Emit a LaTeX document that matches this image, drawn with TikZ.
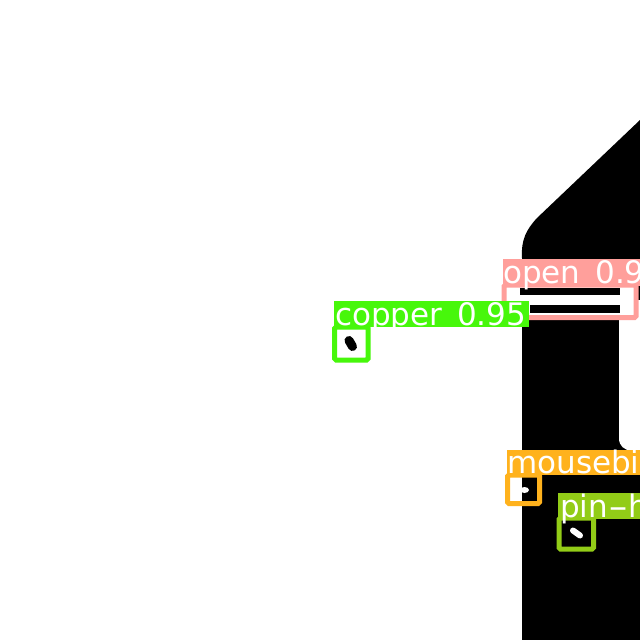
\documentclass[tikz,border=0pt]{standalone}
\usepackage{fontspec}
\setmainfont[WordSpace=1.5]{DejaVu Sans}
\definecolor{cOpen}{HTML}{FF9F9B}
\definecolor{cCopper}{HTML}{47F70B}
\definecolor{cMouse}{HTML}{FFB21D}
\definecolor{cPin}{HTML}{92CC17}
\tikzset{
  defectbox/.style={draw=#1,line width=5pt,rounded corners=1.5pt},
  labeltext/.style={anchor=base west,inner sep=0pt,text=white,font=\fontsize{31}{32}\selectfont}
}
\begin{document}
\begin{tikzpicture}[x=1pt,y=-1pt]
\useasboundingbox (0,0) rectangle (640,640);
\clip (0,0) rectangle (640,640);
\fill[white] (0,0) rectangle (640,640);
% board copper
\fill[black] (522,640) -- (522,258) .. controls (521,240) and (526,230) .. (537,218) -- (640,120) -- (640,640) -- cycle;
% notch on the right
\fill[white] (619,300) -- (640,300) -- (640,451) -- (632,451) .. controls (624,450) and (619,446) .. (619,438) -- cycle;
% open defect
\fill[white] (504,286) rectangle (636,317);
\fill[black] (520,288) rectangle (620,295);
\fill[black] (530,305) rectangle (620,312.5);
% copper defect
\draw[black,line width=9pt,line cap=round] (349,340.5) -- (352.5,346.5);
% mousebite
\fill[white] (510,477) rectangle (522,502);
\fill[white] (524.5,490) ellipse (4.5 and 3);
% pin-hole
\draw[white,line width=6pt,line cap=round] (573,530.5) -- (580,535.5);
% open
\draw[defectbox=cOpen] (504,285) rectangle (636,317.5);
\fill[cOpen] (502.7,259) rectangle (640,286);
\node[labeltext] (openlabel) at (503,283.5) {open 0.9};
% copper
\draw[defectbox=cCopper] (334.7,327) rectangle (368,360);
\fill[cCopper] (334,300.7) rectangle (529,327);
\node[labeltext] (copperlabel) at (335,325) {copper 0.95};
% mousebite
\draw[defectbox=cMouse] (507.5,475) rectangle (539.5,503.5);
\fill[cMouse] (506.7,450) rectangle (640,475);
\node[labeltext] (mouselabel) at (507,473) {mousebi};
% pin-hole
\draw[defectbox=cPin] (559,518) rectangle (593.5,549);
\fill[cPin] (558,492.7) rectangle (640,519.3);
\node[labeltext] (pinlabel) at (560,517) {pin\scalebox{1.8}[1]{-}h};
\end{tikzpicture}
\end{document}
